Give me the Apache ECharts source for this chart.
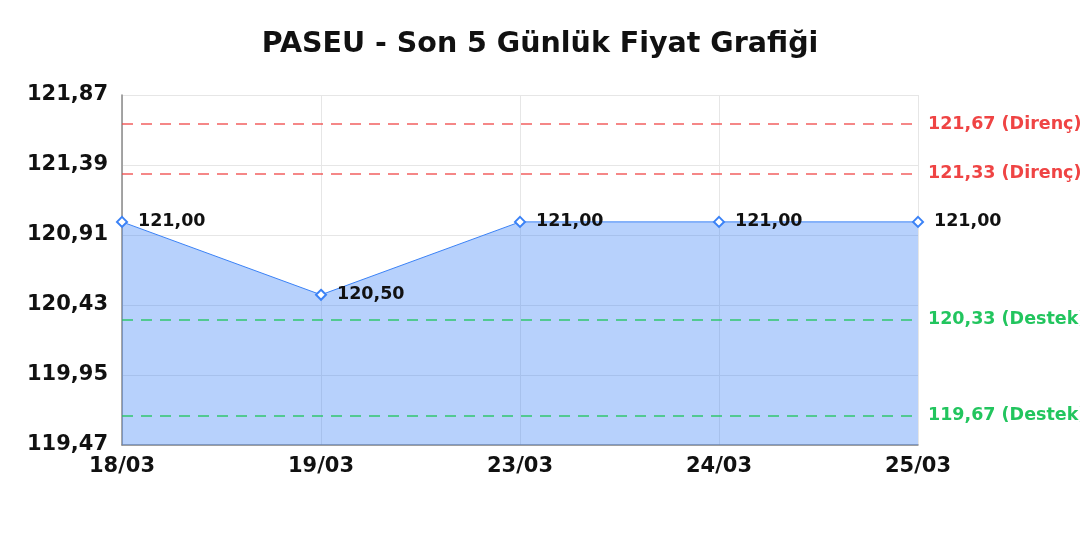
<!DOCTYPE html>
<html>
<head>
<meta charset="utf-8">
<script src="https://cdn.jsdelivr.net/npm/echarts@6/dist/echarts.min.js"></script>
<style>html,body{margin:0;padding:0;background:#fff}#c{width:1080px;height:540px}</style>
</head>
<body>
<div id="c"></div>
<script>
const titleText = 'PASEU - Son 5 Günlük Fiyat Grafiği';
const categories = ['18/03', '19/03', '23/03', '24/03', '25/03'];
const prices = [121.00, 120.50, 121.00, 121.00, 121.00];
const yTicks = [119.47, 119.95, 120.43, 120.91, 121.39, 121.87];
const resistance = [121.67, 121.33];
const support = [120.33, 119.67];

const fmt = v => Number(v).toFixed(2).replace('.', ',');
const FONT = 'DejaVu Sans';

const markData = [].concat(
  resistance.map(v => ({
    yAxis: v,
    lineStyle: { color: 'rgba(239,68,68,0.85)' },
    label: { color: '#ef4444', formatter: fmt(v) + ' (Direnç)' }
  })),
  support.map(v => ({
    yAxis: v,
    lineStyle: { color: 'rgba(34,197,94,0.9)' },
    label: { color: '#22c55e', formatter: fmt(v) + ' (Destek)' }
  }))
);

const chart = echarts.init(document.getElementById('c'));
chart.setOption({
  animation: false,
  backgroundColor: '#ffffff',
  title: {
    text: titleText,
    left: 'center',
    top: 25,
    textStyle: { fontFamily: FONT, fontWeight: 'bold', fontSize: 28.5, color: '#111' }
  },
  grid: { left: 122, right: 162, top: 95, bottom: 95, containLabel: false },
  xAxis: {
    type: 'category',
    data: categories,
    boundaryGap: false,
    axisLine: { show: true, lineStyle: { color: '#888', width: 1.5 } },
    axisTick: { show: false },
    axisLabel: { fontFamily: FONT, fontWeight: 'bold', fontSize: 21, color: '#111', margin: 11 },
    splitLine: { show: true, lineStyle: { color: '#e6e6e6', width: 1 } }
  },
  yAxis: {
    type: 'value',
    min: yTicks[0],
    max: yTicks[yTicks.length - 1],
    axisLine: { show: true, lineStyle: { color: '#888', width: 1.5 } },
    axisTick: { show: false, customValues: yTicks },
    axisLabel: {
      customValues: yTicks,
      fontFamily: FONT, fontWeight: 'bold', fontSize: 21, color: '#111', margin: 14,
      formatter: v => fmt(v)
    },
    splitLine: { show: true, lineStyle: { color: '#e6e6e6', width: 1 } }
  },
  series: [{
    type: 'line',
    data: prices,
    symbol: 'emptyDiamond',
    symbolSize: 10,
    lineStyle: { color: '#3b82f6', width: 1 },
    itemStyle: { color: '#3b82f6', borderWidth: 2 },
    areaStyle: { color: '#3b82f6', opacity: 0.37 },
    label: {
      show: true,
      position: 'right',
      distance: 10,
      fontFamily: FONT, fontWeight: 'bold', fontSize: 17.5, color: '#111',
      formatter: p => fmt(p.value)
    },
    markLine: {
      silent: true,
      symbol: 'none',
      lineStyle: { type: [11, 8], width: 1.5 },
      label: { position: 'end', distance: 10, fontFamily: FONT, fontWeight: 'bold', fontSize: 17.5 },
      data: markData
    }
  }]
});
</script>
</body>
</html>
